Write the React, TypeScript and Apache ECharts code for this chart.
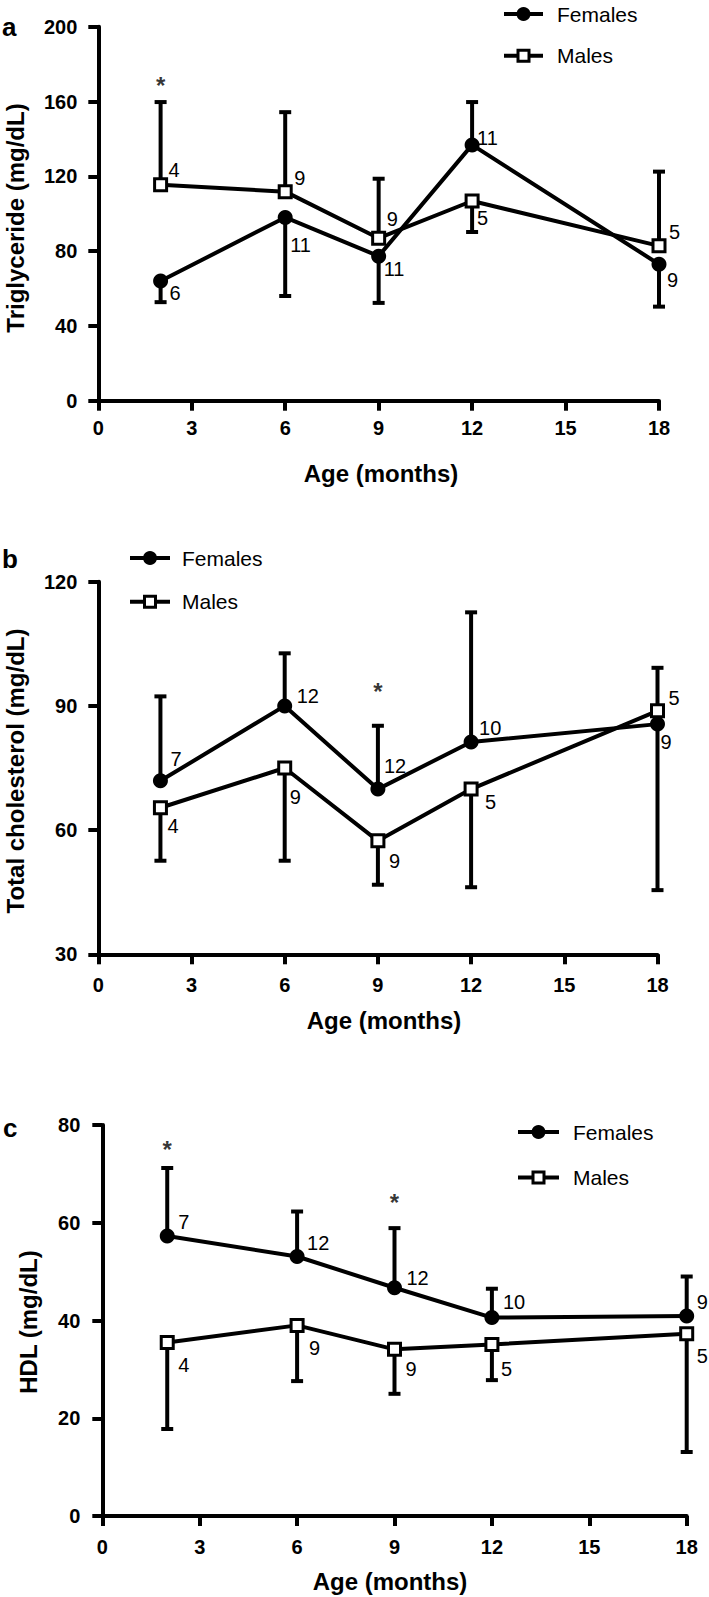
import React, { useEffect, useRef } from "react";
import * as echarts from "echarts";

const FONT = '"Liberation Sans", Arial, Helvetica, sans-serif';

// ---------- data ----------
const ages = [2, 6, 9, 12, 18];
const xTicks = [0, 3, 6, 9, 12, 15, 18];

// a: Triglyceride
const tgFemale = [64, 98, 77.3, 136.8, 73];
const tgFemaleErrEnd = [52.7, 56, 52.3, 159.7, 50.3];
const tgMale = [115.5, 111.8, 86.9, 106.8, 82.8];
const tgMaleErrEnd = [159.7, 154.3, 118.7, 90.2, 122.5];
const tgFemaleN = [6, 11, 11, 11, 9];
const tgMaleN = [4, 9, 9, 5, 5];
const tgStars = [[2, 171.5]];

// b: Total cholesterol
const tcFemale = [71.9, 90, 69.9, 81.3, 85.6];
const tcFemaleErrEnd = [92.3, 102.7, 85.2, 112.6, 99.2];
const tcMale = [65.4, 75, 57.4, 69.9, 88.8];
const tcMaleErrEnd = [52.6, 52.6, 46.8, 46.2, 45.5];
const tcFemaleN = [7, 12, 12, 10, 9];
const tcMaleN = [4, 9, 9, 5, 5];
const tcStars = [[9, 94.9]];

// c: HDL
const hdlFemale = [57.3, 53.1, 46.7, 40.6, 40.9];
const hdlFemaleErrEnd = [71.2, 62.3, 58.9, 46.5, 49];
const hdlMale = [35.5, 39.0, 34.1, 35.1, 37.3];
const hdlMaleErrEnd = [17.8, 27.6, 25, 27.8, 13.1];
const hdlFemaleN = [7, 12, 12, 10, 9];
const hdlMaleN = [4, 9, 9, 5, 5];
const hdlStars = [[2, 76.3], [9, 65.3]];

// ---------- layout (pixel offsets of n-labels from their point) ----------
const tgFemaleLabelOffset = [[9, 12], [5, 28], [5, 13], [5, -7], [8, 16]];
const tgMaleLabelOffset = [[8, -15], [9, -14], [8, -19], [5, 17], [10, -14]];
const tcFemaleLabelOffset = [[10, -22], [12, -10], [6, -23], [8, -14], [3, 18]];
const tcMaleLabelOffset = [[7, 18], [5, 29], [11, 20], [14, 13], [11, -13]];
const hdlFemaleLabelOffset = [[11, -14], [10, -13], [12, -10], [11, -16], [10, -14]];
const hdlMaleLabelOffset = [[11, 23], [12, 23], [11, 20], [9, 25], [10, 22]];

type Panel = {
  letter: string;
  yTitle: string;
  grid: { left: number; top: number; width: number; height: number };
  yMin: number;
  yMax: number;
  yInt: number;
  xLabelMargin: number;
  yLabelMargin: number;
  female: number[];
  femaleErr: number[];
  male: number[];
  maleErr: number[];
  femaleN: number[];
  maleN: number[];
  femaleOff: number[][];
  maleOff: number[][];
  stars: number[][];
  letterPos: [number, number];
  yTitlePos: [number, number];
  xTitlePos: [number, number];
  legend: { x1: number; x2: number; tx: number; yF: number; yM: number };
};

const panels: Panel[] = [
  {
    letter: "a",
    yTitle: "Triglyceride (mg/dL)",
    grid: { left: 98.3, top: 26.7, width: 560.7, height: 374 },
    yMin: 0, yMax: 200, yInt: 40,
    xLabelMargin: 17, yLabelMargin: 21,
    female: tgFemale, femaleErr: tgFemaleErrEnd, male: tgMale, maleErr: tgMaleErrEnd,
    femaleN: tgFemaleN, maleN: tgMaleN,
    femaleOff: tgFemaleLabelOffset, maleOff: tgMaleLabelOffset,
    stars: tgStars,
    letterPos: [2, 27],
    yTitlePos: [15, 218],
    xTitlePos: [381, 473],
    legend: { x1: 504, x2: 543, tx: 557, yF: 14, yM: 55.7 },
  },
  {
    letter: "b",
    yTitle: "Total cholesterol (mg/dL)",
    grid: { left: 98.3, top: 581.7, width: 559.2, height: 372.6 },
    yMin: 30, yMax: 120, yInt: 30,
    xLabelMargin: 21, yLabelMargin: 21,
    female: tcFemale, femaleErr: tcFemaleErrEnd, male: tcMale, maleErr: tcMaleErrEnd,
    femaleN: tcFemaleN, maleN: tcMaleN,
    femaleOff: tcFemaleLabelOffset, maleOff: tcMaleLabelOffset,
    stars: tcStars,
    letterPos: [2, 559],
    yTitlePos: [15, 771],
    xTitlePos: [384, 1020],
    legend: { x1: 130, x2: 170, tx: 182, yF: 558, yM: 601.7 },
  },
  {
    letter: "c",
    yTitle: "HDL (mg/dL)",
    grid: { left: 102.3, top: 1125, width: 584.4, height: 391 },
    yMin: 0, yMax: 80, yInt: 20,
    xLabelMargin: 21, yLabelMargin: 22,
    female: hdlFemale, femaleErr: hdlFemaleErrEnd, male: hdlMale, maleErr: hdlMaleErrEnd,
    femaleN: hdlFemaleN, maleN: hdlMaleN,
    femaleOff: hdlFemaleLabelOffset, maleOff: hdlMaleLabelOffset,
    stars: hdlStars,
    letterPos: [3, 1128],
    yTitlePos: [28, 1322],
    xTitlePos: [390, 1581],
    legend: { x1: 518, x2: 559, tx: 573, yF: 1132, yM: 1177.6 },
  },
];

const LW = 4;

function errorBarSeries(idx: number, means: number[], ends: number[]) {
  return {
    type: "custom",
    xAxisIndex: idx,
    yAxisIndex: idx,
    silent: true,
    z: 1,
    encode: { x: 0, y: [1, 2] },
    data: ages.map((a, k) => [a, means[k], ends[k]]),
    renderItem: (_params: any, api: any) => {
      const x = api.value(0);
      const p1 = api.coord([x, api.value(1)]);
      const p2 = api.coord([x, api.value(2)]);
      const half = 6;
      return {
        type: "group",
        children: [
          {
            type: "line",
            shape: { x1: p1[0], y1: p1[1], x2: p2[0], y2: p2[1] },
            style: { stroke: "#000", lineWidth: LW },
          },
          {
            type: "line",
            shape: { x1: p2[0] - half, y1: p2[1], x2: p2[0] + half, y2: p2[1] },
            style: { stroke: "#000", lineWidth: LW },
          },
        ],
      };
    },
  };
}

function pointItems(vals: number[], ns: number[], offs: number[][]) {
  return ages.map((a, k) => ({
    value: [a, vals[k]],
    label: {
      show: true,
      formatter: String(ns[k]),
      position: "inside",
      align: "left",
      verticalAlign: "middle",
      offset: offs[k],
      color: "#000",
      fontSize: 20,
      fontFamily: FONT,
      fontWeight: "normal",
    },
  }));
}

function buildOption() {
  const grid: any[] = [];
  const xAxis: any[] = [];
  const yAxis: any[] = [];
  const series: any[] = [];
  const graphic: any[] = [];

  panels.forEach((p, i) => {
    grid.push({ ...p.grid, containLabel: false, outerBoundsMode: "none" });
    const axisCommon = {
      axisLine: { show: true, onZero: false, lineStyle: { color: "#000", width: LW } },
      axisTick: { show: true, inside: false, length: 10, lineStyle: { color: "#000", width: LW } },
      splitLine: { show: false },
    };
    xAxis.push({
      type: "value",
      gridIndex: i,
      min: xTicks[0],
      max: xTicks[xTicks.length - 1],
      interval: 3,
      ...axisCommon,
      axisLabel: {
        color: "#000",
        fontSize: 20,
        fontWeight: "bold",
        fontFamily: FONT,
        margin: p.xLabelMargin,
      },
    });
    yAxis.push({
      type: "value",
      gridIndex: i,
      min: p.yMin,
      max: p.yMax,
      interval: p.yInt,
      ...axisCommon,
      axisLabel: {
        color: "#000",
        fontSize: 20,
        fontWeight: "bold",
        fontFamily: FONT,
        margin: p.yLabelMargin,
      },
    });

    series.push(errorBarSeries(i, p.female, p.femaleErr));
    series.push(errorBarSeries(i, p.male, p.maleErr));
    series.push({
      type: "line",
      name: "Females",
      xAxisIndex: i,
      yAxisIndex: i,
      z: 3,
      symbol: "circle",
      symbolSize: 15,
      showSymbol: true,
      lineStyle: { color: "#000", width: LW },
      itemStyle: { color: "#000" },
      data: pointItems(p.female, p.femaleN, p.femaleOff),
    });
    series.push({
      type: "line",
      name: "Males",
      xAxisIndex: i,
      yAxisIndex: i,
      z: 4,
      symbol: "rect",
      symbolSize: 12,
      showSymbol: true,
      lineStyle: { color: "#000", width: LW },
      itemStyle: { color: "#fff", borderColor: "#000", borderWidth: 3 },
      data: pointItems(p.male, p.maleN, p.maleOff),
    });
    series.push({
      type: "scatter",
      name: "sig",
      xAxisIndex: i,
      yAxisIndex: i,
      z: 5,
      symbolSize: 1,
      itemStyle: { color: "rgba(0,0,0,0)" },
      silent: true,
      label: {
        show: true,
        formatter: "*",
        position: "inside",
        align: "center",
        verticalAlign: "middle",
        offset: [0, 6],
        color: "#000",
        fontSize: 24,
        fontWeight: "bold",
        fontFamily: FONT,
      },
      data: p.stars,
    });

    graphic.push({
      type: "text",
      x: p.letterPos[0],
      y: p.letterPos[1],
      style: {
        text: p.letter,
        fill: "#000",
        fontSize: 26,
        fontWeight: "bold",
        fontFamily: FONT,
        align: "left",
        verticalAlign: "middle",
      },
    });
    graphic.push({
      type: "text",
      x: p.yTitlePos[0],
      y: p.yTitlePos[1],
      rotation: Math.PI / 2,
      style: {
        text: p.yTitle,
        fill: "#000",
        fontSize: 24,
        fontWeight: "bold",
        fontFamily: FONT,
        align: "center",
        verticalAlign: "middle",
      },
    });
    graphic.push({
      type: "text",
      x: p.xTitlePos[0],
      y: p.xTitlePos[1],
      style: {
        text: "Age (months)",
        fill: "#000",
        fontSize: 24,
        fontWeight: "bold",
        fontFamily: FONT,
        align: "center",
        verticalAlign: "middle",
      },
    });
    const L = p.legend;
    const mid = (L.x1 + L.x2) / 2;
    graphic.push(
      { type: "line", shape: { x1: L.x1, y1: L.yF, x2: L.x2, y2: L.yF }, style: { stroke: "#000", lineWidth: 4 } },
      { type: "circle", shape: { cx: mid, cy: L.yF, r: 7 }, style: { fill: "#000" } },
      {
        type: "text", x: L.tx, y: L.yF,
        style: { text: "Females", fill: "#000", fontSize: 21, fontFamily: FONT, align: "left", verticalAlign: "middle" },
      },
      { type: "line", shape: { x1: L.x1, y1: L.yM, x2: L.x2, y2: L.yM }, style: { stroke: "#000", lineWidth: 4 } },
      {
        type: "rect", shape: { x: mid - 5.5, y: L.yM - 5.5, width: 11, height: 11 },
        style: { fill: "#fff", stroke: "#000", lineWidth: 3 },
      },
      {
        type: "text", x: L.tx, y: L.yM,
        style: { text: "Males", fill: "#000", fontSize: 21, fontFamily: FONT, align: "left", verticalAlign: "middle" },
      }
    );
  });

  return {
    animation: false,
    backgroundColor: "#fff",
    grid,
    xAxis,
    yAxis,
    series,
    graphic,
  };
}

export default function App() {
  const ref = useRef<HTMLDivElement>(null);
  useEffect(() => {
    document.body.style.margin = "0";
    const chart = echarts.init(ref.current!, null, { renderer: "svg" });
    chart.setOption(buildOption() as any);
    return () => chart.dispose();
  }, []);
  return <div ref={ref} style={{ width: 709, height: 1597 }} />;
}
